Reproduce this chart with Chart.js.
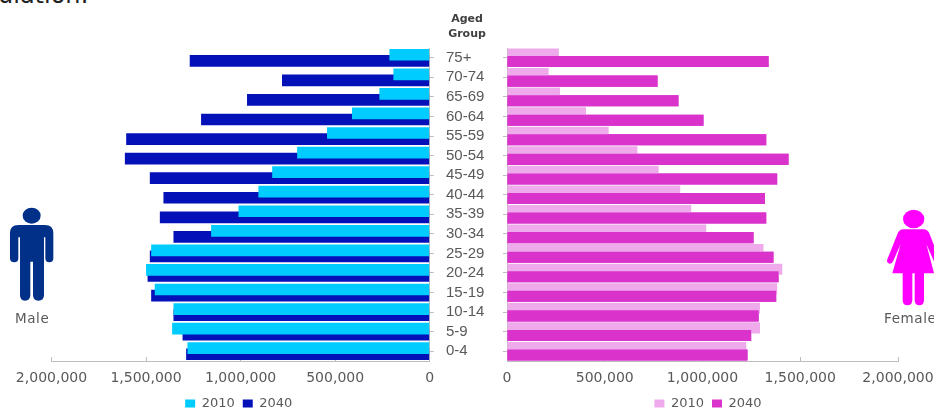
<!DOCTYPE html>
<html>
<head>
<meta charset="utf-8">
<title>Population pyramid 2010 and 2040</title>
<script src="https://cdn.jsdelivr.net/npm/chart.js@4/dist/chart.umd.min.js"></script>
<style>
  html, body { margin: 0; padding: 0; background: #fff; }
  #page { position: relative; width: 934px; height: 408px; overflow: hidden; background: #fff; }
  canvas { position: absolute; top: 0; }
  #maleChart { left: 0; }
  #femaleChart { left: 440px; }
  .txt { position: absolute; font-family: "DejaVu Sans", sans-serif; white-space: nowrap; color: #595959; }
  #head { left: 447px; top: 11px; width: 40px; text-align: center; font-size: 11px; line-height: 15px; font-weight: bold; color: #404040; }
  #maleLbl { left: 15px; top: 310px; font-size: 13.5px; line-height: 16px; letter-spacing: .6px; }
  #femaleLbl { left: 884px; top: 310px; font-size: 13.5px; line-height: 16px; letter-spacing: .6px; }
  #cut { left: -2px; top: -19px; font-size: 24px; line-height: 28px; color: #222; }
  svg { position: absolute; top: 200px; width: 70px; height: 130px; }
</style>
</head>
<body>
<div id="page">
  <div class="txt" id="cut">ulation:</div>
  <canvas id="maleChart" width="474" height="420"></canvas>
  <canvas id="femaleChart" width="509" height="420"></canvas>
  <div class="txt" id="head">Aged<br>Group</div>
  <svg style="left:0" viewBox="0 0 210 390">
    <ellipse cx="95" cy="47" rx="27" ry="24" fill="#003087"/>
    <path fill="#003087" d="M55 75H135Q160 75 160 100V175Q160 187 148 187Q136 187 136 175V112H132V285Q132 302 115 302Q99 302 99 285V185H91V285Q91 302 75 302Q60 302 60 285V112H55V175Q55 187 43 187Q30 187 30 175V100Q30 75 55 75Z"/>
  </svg>
  <svg style="left:864px" viewBox="0 0 210 390">
    <ellipse cx="149" cy="57" rx="32" ry="28" fill="#ff00ff"/>
    <path fill="#ff00ff" d="M118 88H178Q192 88 197 103L227 178Q230 190 220 192Q213 192 209 182L187 132L210 220H180V300Q180 316 166 316Q152 316 152 300V220H145V300Q145 316 130 316Q116 316 116 300V220H85L110 132L88 182Q84 192 76 191Q66 188 70 178L100 103Q105 88 118 88Z"/>
  </svg>
  <div class="txt" id="maleLbl">Male</div>
  <div class="txt" id="femaleLbl">Female</div>
</div>
<script>
// Age bands, oldest at the top of the pyramid
const ageGroups = ['75+','70-74','65-69','60-64','55-59','50-54','45-49','40-44','35-39','30-34','25-29','20-24','15-19','10-14','5-9','0-4'];
const axisTicks = [0, 500000, 1000000, 1500000, 2000000];

const male2010 = [213000,192000,266000,411000,543000,701000,833000,906000,1011000,1156000,1473000,1500000,1454000,1355000,1362000,1281000];
const male2040 = [1269000,781000,966000,1209000,1605000,1612000,1480000,1408000,1427000,1355000,1480000,1492000,1473000,1355000,1307000,1288000];
const female2010 = [265000,213000,271000,404000,520000,667000,776000,886000,942000,1019000,1312000,1408000,1382000,1294000,1294000,1224000];
const female2040 = [1338000,770000,877000,1005000,1326000,1440000,1382000,1319000,1326000,1261000,1363000,1389000,1377000,1287000,1249000,1230000];

const AXIS_GREY = '#bdbdbd';
const TEXT_GREY = '#595959';
Chart.defaults.animation = false;
Chart.defaults.font.family = '"DejaVu Sans", sans-serif';

// Shared value axis: ticks point inward, labels sit below
function valueAxis(reverse) {
  return {
    type: 'linear', min: 0, max: 2000000, reverse,
    afterBuildTicks: s => { s.ticks = axisTicks.map(v => ({ value: v })); },
    afterFit: s => { s.height = 28; },
    border: { color: AXIS_GREY, width: 1 },
    grid: { drawOnChartArea: false, color: AXIS_GREY, tickLength: -4 },
    ticks: {
      color: TEXT_GREY, font: { size: 14 }, padding: 13, maxRotation: 0,
      callback: v => Number(v).toLocaleString('en-US')
    }
  };
}

const legendOpts = {
  position: 'bottom',
  labels: { boxWidth: 10, boxHeight: 8, padding: 8, color: TEXT_GREY, font: { size: 13 } }
};

// Slides a chart's legend sideways so it sits under its half of the pyramid
const legendShift = dx => ({
  id: 'legendShift',
  afterLayout(chart) {
    chart.legend.left += dx;
    chart.legend.right += dx;
  }
});

new Chart(document.getElementById('maleChart'), {
  type: 'bar',
  data: {
    labels: ageGroups,
    datasets: [
      { label: '2010', data: male2010, backgroundColor: '#00ccff', categoryPercentage: 0.62, barPercentage: 1.92 },
      { label: '2040', data: male2040, backgroundColor: '#0410b8', categoryPercentage: 0.62, barPercentage: 1.92 }
    ]
  },
  plugins: [legendShift(-24)],
  options: {
    indexAxis: 'y', responsive: false, devicePixelRatio: 1,
    layout: { padding: { left: 51.5, top: 48, right: 0, bottom: 0 } },
    plugins: { legend: legendOpts, tooltip: { enabled: false } },
    scales: {
      x: valueAxis(true),
      y: {
        position: 'right', offset: true,
        afterFit: s => { s.width = 44.3; },
        border: { color: AXIS_GREY, width: 1 },
        grid: { offset: false, drawOnChartArea: false, color: AXIS_GREY, tickLength: 4 },
        ticks: { display: false }
      }
    }
  }
});

// The 2040 bars overlap the 2010 bars on the female side, so they are painted again last
const paint2040Last = {
  id: 'paint2040Last',
  afterDatasetsDraw(chart) {
    chart.getDatasetMeta(1).data.forEach(bar => bar.draw(chart.ctx));
  }
};

new Chart(document.getElementById('femaleChart'), {
  type: 'bar',
  data: {
    labels: ageGroups,
    datasets: [
      { label: '2010', data: female2010, backgroundColor: '#eeaaea', categoryPercentage: 0.77, barPercentage: 1.47 },
      { label: '2040', data: female2040, backgroundColor: '#da33cc', categoryPercentage: 0.77, barPercentage: 1.47 }
    ]
  },
  plugins: [paint2040Last, legendShift(36)],
  options: {
    indexAxis: 'y', responsive: false, devicePixelRatio: 1,
    layout: { padding: { left: 6, top: 48, right: 51, bottom: 0 } },
    plugins: { legend: legendOpts, tooltip: { enabled: false } },
    scales: {
      x: valueAxis(false),
      y: {
        position: 'left', offset: true,
        afterFit: s => { s.width = 61; },
        border: { color: AXIS_GREY, width: 1 },
        grid: { offset: false, drawOnChartArea: false, color: AXIS_GREY, tickLength: 4 },
        ticks: {
          crossAlign: 'far', color: TEXT_GREY, autoSkip: false,
          font: { family: '"Liberation Sans", sans-serif', size: 15 }
        }
      }
    }
  }
});
</script>
</body>
</html>
